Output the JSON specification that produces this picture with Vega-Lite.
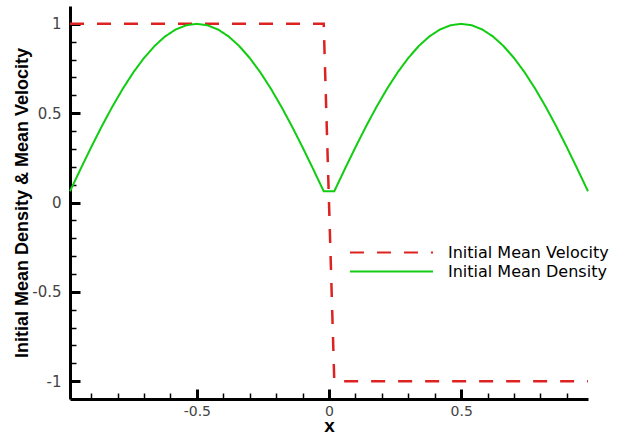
{
  "$schema": "https://vega.github.io/schema/vega-lite/v6.json",
  "width": 518,
  "height": 393,
  "autosize": "none",
  "padding": {"left": 70, "top": 6, "right": 32, "bottom": 36},
  "background": "white",
  "config": {"view": {"stroke": null}, "font": "DejaVu Sans"},
  "data": {"values": [
    {"x": -0.98, "value": 1, "series": "Initial Mean Velocity"},
    {"x": -0.94, "value": 1, "series": "Initial Mean Velocity"},
    {"x": -0.90, "value": 1, "series": "Initial Mean Velocity"},
    {"x": -0.86, "value": 1, "series": "Initial Mean Velocity"},
    {"x": -0.82, "value": 1, "series": "Initial Mean Velocity"},
    {"x": -0.78, "value": 1, "series": "Initial Mean Velocity"},
    {"x": -0.74, "value": 1, "series": "Initial Mean Velocity"},
    {"x": -0.70, "value": 1, "series": "Initial Mean Velocity"},
    {"x": -0.66, "value": 1, "series": "Initial Mean Velocity"},
    {"x": -0.62, "value": 1, "series": "Initial Mean Velocity"},
    {"x": -0.58, "value": 1, "series": "Initial Mean Velocity"},
    {"x": -0.54, "value": 1, "series": "Initial Mean Velocity"},
    {"x": -0.50, "value": 1, "series": "Initial Mean Velocity"},
    {"x": -0.46, "value": 1, "series": "Initial Mean Velocity"},
    {"x": -0.42, "value": 1, "series": "Initial Mean Velocity"},
    {"x": -0.38, "value": 1, "series": "Initial Mean Velocity"},
    {"x": -0.34, "value": 1, "series": "Initial Mean Velocity"},
    {"x": -0.30, "value": 1, "series": "Initial Mean Velocity"},
    {"x": -0.26, "value": 1, "series": "Initial Mean Velocity"},
    {"x": -0.22, "value": 1, "series": "Initial Mean Velocity"},
    {"x": -0.18, "value": 1, "series": "Initial Mean Velocity"},
    {"x": -0.14, "value": 1, "series": "Initial Mean Velocity"},
    {"x": -0.10, "value": 1, "series": "Initial Mean Velocity"},
    {"x": -0.06, "value": 1, "series": "Initial Mean Velocity"},
    {"x": -0.02, "value": 1, "series": "Initial Mean Velocity"},
    {"x": 0.02, "value": -1, "series": "Initial Mean Velocity"},
    {"x": 0.06, "value": -1, "series": "Initial Mean Velocity"},
    {"x": 0.10, "value": -1, "series": "Initial Mean Velocity"},
    {"x": 0.14, "value": -1, "series": "Initial Mean Velocity"},
    {"x": 0.18, "value": -1, "series": "Initial Mean Velocity"},
    {"x": 0.22, "value": -1, "series": "Initial Mean Velocity"},
    {"x": 0.26, "value": -1, "series": "Initial Mean Velocity"},
    {"x": 0.30, "value": -1, "series": "Initial Mean Velocity"},
    {"x": 0.34, "value": -1, "series": "Initial Mean Velocity"},
    {"x": 0.38, "value": -1, "series": "Initial Mean Velocity"},
    {"x": 0.42, "value": -1, "series": "Initial Mean Velocity"},
    {"x": 0.46, "value": -1, "series": "Initial Mean Velocity"},
    {"x": 0.50, "value": -1, "series": "Initial Mean Velocity"},
    {"x": 0.54, "value": -1, "series": "Initial Mean Velocity"},
    {"x": 0.58, "value": -1, "series": "Initial Mean Velocity"},
    {"x": 0.62, "value": -1, "series": "Initial Mean Velocity"},
    {"x": 0.66, "value": -1, "series": "Initial Mean Velocity"},
    {"x": 0.70, "value": -1, "series": "Initial Mean Velocity"},
    {"x": 0.74, "value": -1, "series": "Initial Mean Velocity"},
    {"x": 0.78, "value": -1, "series": "Initial Mean Velocity"},
    {"x": 0.82, "value": -1, "series": "Initial Mean Velocity"},
    {"x": 0.86, "value": -1, "series": "Initial Mean Velocity"},
    {"x": 0.90, "value": -1, "series": "Initial Mean Velocity"},
    {"x": 0.94, "value": -1, "series": "Initial Mean Velocity"},
    {"x": 0.98, "value": -1, "series": "Initial Mean Velocity"},
    {"x": -0.98, "value": 0.0628, "series": "Initial Mean Density"},
    {"x": -0.94, "value": 0.1874, "series": "Initial Mean Density"},
    {"x": -0.90, "value": 0.3090, "series": "Initial Mean Density"},
    {"x": -0.86, "value": 0.4258, "series": "Initial Mean Density"},
    {"x": -0.82, "value": 0.5358, "series": "Initial Mean Density"},
    {"x": -0.78, "value": 0.6374, "series": "Initial Mean Density"},
    {"x": -0.74, "value": 0.7290, "series": "Initial Mean Density"},
    {"x": -0.70, "value": 0.8090, "series": "Initial Mean Density"},
    {"x": -0.66, "value": 0.8763, "series": "Initial Mean Density"},
    {"x": -0.62, "value": 0.9298, "series": "Initial Mean Density"},
    {"x": -0.58, "value": 0.9686, "series": "Initial Mean Density"},
    {"x": -0.54, "value": 0.9921, "series": "Initial Mean Density"},
    {"x": -0.50, "value": 1.0, "series": "Initial Mean Density"},
    {"x": -0.46, "value": 0.9921, "series": "Initial Mean Density"},
    {"x": -0.42, "value": 0.9686, "series": "Initial Mean Density"},
    {"x": -0.38, "value": 0.9298, "series": "Initial Mean Density"},
    {"x": -0.34, "value": 0.8763, "series": "Initial Mean Density"},
    {"x": -0.30, "value": 0.8090, "series": "Initial Mean Density"},
    {"x": -0.26, "value": 0.7290, "series": "Initial Mean Density"},
    {"x": -0.22, "value": 0.6374, "series": "Initial Mean Density"},
    {"x": -0.18, "value": 0.5358, "series": "Initial Mean Density"},
    {"x": -0.14, "value": 0.4258, "series": "Initial Mean Density"},
    {"x": -0.10, "value": 0.3090, "series": "Initial Mean Density"},
    {"x": -0.06, "value": 0.1874, "series": "Initial Mean Density"},
    {"x": -0.02, "value": 0.0628, "series": "Initial Mean Density"},
    {"x": 0.02, "value": 0.0628, "series": "Initial Mean Density"},
    {"x": 0.06, "value": 0.1874, "series": "Initial Mean Density"},
    {"x": 0.10, "value": 0.3090, "series": "Initial Mean Density"},
    {"x": 0.14, "value": 0.4258, "series": "Initial Mean Density"},
    {"x": 0.18, "value": 0.5358, "series": "Initial Mean Density"},
    {"x": 0.22, "value": 0.6374, "series": "Initial Mean Density"},
    {"x": 0.26, "value": 0.7290, "series": "Initial Mean Density"},
    {"x": 0.30, "value": 0.8090, "series": "Initial Mean Density"},
    {"x": 0.34, "value": 0.8763, "series": "Initial Mean Density"},
    {"x": 0.38, "value": 0.9298, "series": "Initial Mean Density"},
    {"x": 0.42, "value": 0.9686, "series": "Initial Mean Density"},
    {"x": 0.46, "value": 0.9921, "series": "Initial Mean Density"},
    {"x": 0.50, "value": 1.0, "series": "Initial Mean Density"},
    {"x": 0.54, "value": 0.9921, "series": "Initial Mean Density"},
    {"x": 0.58, "value": 0.9686, "series": "Initial Mean Density"},
    {"x": 0.62, "value": 0.9298, "series": "Initial Mean Density"},
    {"x": 0.66, "value": 0.8763, "series": "Initial Mean Density"},
    {"x": 0.70, "value": 0.8090, "series": "Initial Mean Density"},
    {"x": 0.74, "value": 0.7290, "series": "Initial Mean Density"},
    {"x": 0.78, "value": 0.6374, "series": "Initial Mean Density"},
    {"x": 0.82, "value": 0.5358, "series": "Initial Mean Density"},
    {"x": 0.86, "value": 0.4258, "series": "Initial Mean Density"},
    {"x": 0.90, "value": 0.3090, "series": "Initial Mean Density"},
    {"x": 0.94, "value": 0.1874, "series": "Initial Mean Density"},
    {"x": 0.98, "value": 0.0628, "series": "Initial Mean Density"}
  ]},
  "layer": [
    {
      "transform": [{"filter": "datum.series === 'Initial Mean Velocity'"}],
      "mark": {"type": "line", "strokeWidth": 2.5},
      "encoding": {
        "x": {"field": "x", "type": "quantitative",
          "scale": {"domain": [-0.98, 0.98], "nice": false, "zero": false},
          "axis": {"orient": "bottom", "values": [-0.5, 0, 0.5], "grid": false,
            "tickSize": -10, "tickWidth": 3, "tickColor": "black",
            "domainColor": "black", "domainWidth": 3,
            "labelExpr": "toString(datum.value)", "labelFont": "DejaVu Sans", "labelFontSize": 14,
            "labelColor": "#444", "labelPadding": 15, "labelFlush": false,
            "title": "x", "titleFont": "Liberation Sans", "titleFontWeight": "bold",
            "titleFontSize": 19, "titleColor": "black", "titlePadding": -2}},
        "y": {"field": "value", "type": "quantitative",
          "scale": {"domain": [-1.1, 1.1], "nice": false, "zero": false},
          "axis": {"orient": "left", "values": [-1, -0.5, 0, 0.5, 1], "grid": false,
            "tickSize": -10, "tickWidth": 3, "tickColor": "black",
            "domainColor": "black", "domainWidth": 3,
            "labelExpr": "toString(datum.value)", "labelFont": "DejaVu Sans", "labelFontSize": 15,
            "labelColor": "#444", "labelPadding": 19, "labelFlush": false,
            "title": "Initial Mean Density & Mean Velocity", "titleFont": "Liberation Sans",
            "titleFontWeight": "bold", "titleFontSize": 18, "titleColor": "black", "titlePadding": 0}},
        "color": {"field": "series", "type": "nominal",
          "scale": {"domain": ["Initial Mean Velocity", "Initial Mean Density"], "range": ["#dd2222", "#11cc11"]},
          "legend": {"title": null, "orient": "none", "legendX": 312, "legendY": 237, "padding": 0,
            "symbolType": "M-5,0H5", "symbolSize": 276, "symbolStrokeWidth": 2,
            "labelFont": "DejaVu Sans", "labelFontSize": 16, "labelColor": "black", "labelLimit": 0,
            "labelOffset": 47, "rowPadding": 1}},
        "strokeDash": {"field": "series", "type": "nominal",
          "scale": {"domain": ["Initial Mean Velocity", "Initial Mean Density"], "range": [[14, 13], [1, 0]]},
          "legend": {"title": null, "orient": "none", "legendX": 312, "legendY": 237, "padding": 0,
            "symbolType": "M-5,0H5", "symbolSize": 276, "symbolStrokeWidth": 2,
            "labelFont": "DejaVu Sans", "labelFontSize": 16, "labelColor": "black", "labelLimit": 0,
            "labelOffset": 47, "rowPadding": 1}}
      }
    },
    {
      "transform": [{"filter": "datum.series === 'Initial Mean Density'"}],
      "mark": {"type": "line", "strokeWidth": 2},
      "encoding": {
        "x": {"field": "x", "type": "quantitative",
          "axis": {"orient": "bottom", "values": [-0.9, -0.8, -0.7, -0.6, -0.4, -0.3, -0.2, -0.1, 0.1, 0.2, 0.3, 0.4, 0.6, 0.7, 0.8, 0.9],
            "grid": false, "domain": false, "labels": false, "title": null,
            "tickSize": -6, "tickWidth": 1.5, "tickColor": "black"}},
        "y": {"field": "value", "type": "quantitative",
          "axis": {"orient": "left", "values": [-0.9, -0.8, -0.7, -0.6, -0.4, -0.3, -0.2, -0.1, 0.1, 0.2, 0.3, 0.4, 0.6, 0.7, 0.8, 0.9],
            "grid": false, "domain": false, "labels": false, "title": null,
            "tickSize": -6, "tickWidth": 1.5, "tickColor": "black"}},
        "color": {"field": "series", "type": "nominal"},
        "strokeDash": {"field": "series", "type": "nominal"}
      }
    }
  ],
  "resolve": {"axis": {"x": "independent", "y": "independent"}}
}
